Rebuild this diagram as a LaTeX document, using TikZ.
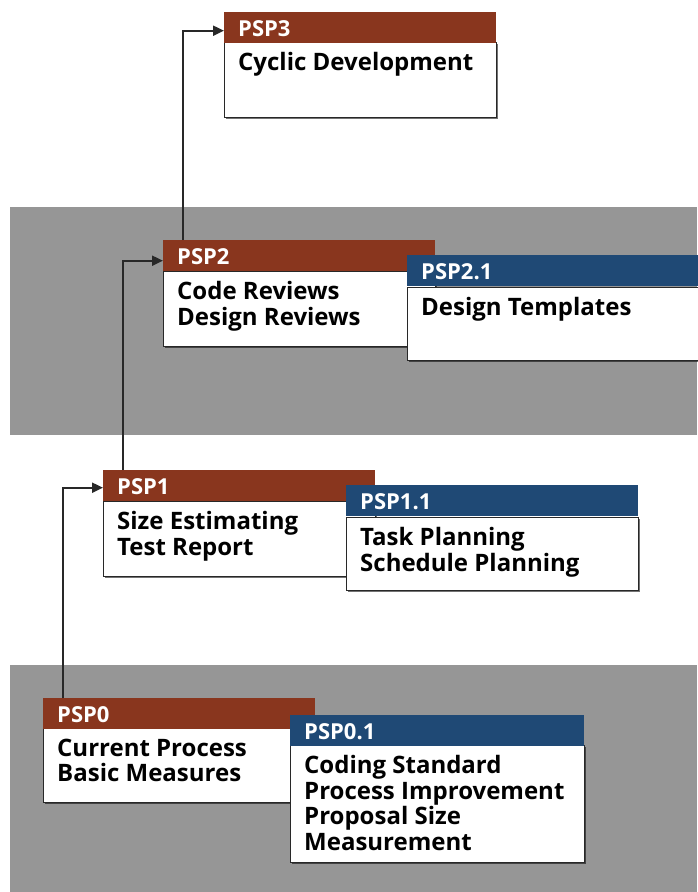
\documentclass[tikz,border=0pt]{standalone}
\usepackage{fontspec}
\setmainfont{Open Sans}
\usetikzlibrary{arrows.meta,shadows}
\definecolor{hdrred}{RGB}{137,54,30}
\definecolor{hdrblue}{RGB}{31,73,117}
\definecolor{band}{RGB}{150,150,150}
\definecolor{edge}{RGB}{40,40,40}
\begin{document}
\begin{tikzpicture}[x=1pt,y=-1pt,
  hdr/.style={anchor=north west,minimum height=31pt,inner xsep=14pt,inner ysep=0pt,
    text=white,font=\fontsize{22}{24}\selectfont\bfseries,align=left,
    text height=18pt,text depth=0pt},
  bodybox/.style={anchor=north west,draw=edge,line width=1.4pt,fill=white,inner sep=0pt,
    drop shadow={shadow xshift=1.5pt,shadow yshift=-1.5pt,fill=black,opacity=0.55}},
  bodytext/.style={anchor=north west,inner sep=0pt,align=left,
    font=\fontsize{24}{25.5}\selectfont\bfseries},
  arr/.style={draw=edge,line width=2pt,-{Triangle[length=11pt,width=10pt]}}]
\useasboundingbox (0,0) rectangle (697,892);
\fill[white] (0,0) rectangle (697,892);
% grey bands
\fill[band] (10,207) rectangle (697,435);
\fill[band] (10,665) rectangle (697,892);

% PSP3
\node[bodybox,minimum width=272pt,minimum height=75pt] (p3b) at (224,42) {};
\node[hdr,fill=hdrred,text width=244pt] (p3h) at (224,12) {PSP3};
\node[bodytext] (p3t) at ([xshift=14pt,yshift=-10.5pt]p3b.north west) {Cyclic Development};

% PSP2
\node[bodybox,minimum width=272pt,minimum height=75pt] (p2b) at (163,271) {};
\node[hdr,fill=hdrred,text width=244pt] (p2h) at (163,240) {PSP2};
\node[bodytext] (p2t) at ([xshift=14pt,yshift=-10.5pt]p2b.north west) {Code Reviews\\Design Reviews};

% PSP2.1
\node[bodybox,minimum width=300pt,minimum height=73pt] (p21b) at (407,287) {};
\node[hdr,fill=hdrblue,text width=272pt] (p21h) at (407,255) {PSP2.1};
\node[bodytext] (p21t) at ([xshift=14pt,yshift=-10.5pt]p21b.north west) {Design Templates};

% PSP1
\node[bodybox,minimum width=272pt,minimum height=75pt] (p1b) at (103,501) {};
\node[hdr,fill=hdrred,text width=244pt] (p1h) at (103,470) {PSP1};
\node[bodytext] (p1t) at ([xshift=14pt,yshift=-10.5pt]p1b.north west) {Size Estimating\\Test Report};

% PSP1.1
\node[bodybox,minimum width=292pt,minimum height=73pt] (p11b) at (346,517) {};
\node[hdr,fill=hdrblue,text width=264pt] (p11h) at (346,485) {PSP1.1};
\node[bodytext] (p11t) at ([xshift=14pt,yshift=-10.5pt]p11b.north west) {Task Planning\\Schedule Planning};

% PSP0
\node[bodybox,minimum width=272pt,minimum height=74pt] (p0b) at (43,728) {};
\node[hdr,fill=hdrred,text width=244pt] (p0h) at (43,698) {PSP0};
\node[bodytext] (p0t) at ([xshift=14pt,yshift=-10.5pt]p0b.north west) {Current Process\\Basic Measures};

% PSP0.1
\node[bodybox,minimum width=294pt,minimum height=117pt] (p01b) at (290,745) {};
\node[hdr,fill=hdrblue,text width=266pt] (p01h) at (290,715) {PSP0.1};
\node[bodytext] (p01t) at ([xshift=14pt,yshift=-10.5pt]p01b.north west) {Coding Standard\\Process Improvement\\Proposal Size\\Measurement};

% connectors
\coordinate (c0) at ([xshift=20pt]p0h.north west);
\coordinate (c1) at ([xshift=20pt]p1h.north west);
\coordinate (c2) at ([xshift=20pt]p2h.north west);
\draw[arr] (c0) |- ([yshift=-2pt]p1h.west);
\draw[arr] (c1) |- ([yshift=-5pt]p2h.west);
\draw[arr] (c2) |- ([yshift=-3pt]p3h.west);
\end{tikzpicture}
\end{document}
